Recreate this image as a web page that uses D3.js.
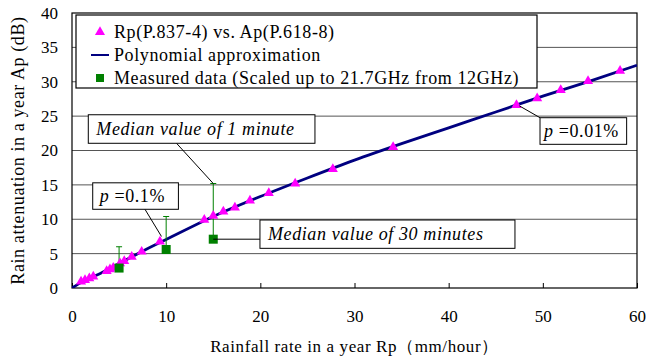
<!DOCTYPE html>
<html>
<head>
<meta charset="utf-8">
<script src="https://cdn.jsdelivr.net/npm/d3@7"></script>
<style>
  html, body { margin: 0; padding: 0; background: #fff; }
  svg { display: block; }
  svg text { font-family: "Liberation Serif", "Times New Roman", serif; fill: #000; }
</style>
</head>
<body>
<svg width="650" height="363"></svg>
<script>
// Rp(P.837-4) vs. Ap(P.618-8) points
const rpRate = [0.96, 1.38, 1.84, 2.26, 3.68, 4.03, 4.38, 5.1, 5.55, 6.34, 7.4, 9.34,
  14.05, 15.0, 16.07, 17.3, 18.9, 20.9, 23.7, 27.7, 34.1, 47.2, 49.4, 51.9, 54.8, 58.2];
const apAtten = [0.92, 1.16, 1.4, 1.65, 2.47, 2.72, 2.95, 3.6, 3.93, 4.55, 5.28, 6.74,
  9.9, 10.5, 11.1, 11.7, 12.7, 13.8, 15.2, 17.3, 20.5, 26.6, 27.6, 28.8, 30.1, 31.6];

// Polynomial approximation
const polyRate = [0, 1, 2, 3, 5, 7.5, 10, 15, 20, 25, 30, 35, 40, 45, 50, 55, 60];
const polyAtten = [0, 0.85, 1.5, 2.1, 3.55, 5.35, 7.05, 10.4, 13.3, 16.0, 18.6, 21.0, 23.3, 25.6, 27.9, 30.1, 32.4];

// Measured data (scaled up to 21.7GHz from 12GHz)
const measRate = [5, 10, 15];
const measAtten = [2.9, 5.6, 7.1];     // median of 30 minutes
const measUpper = [6.0, 10.4, 15.2];   // median of 1 minute

const xTicks = [0, 10, 20, 30, 40, 50, 60];
const yTicks = [0, 5, 10, 15, 20, 25, 30, 35, 40];

const svg = d3.select('svg');
const margin = { left: 72, right: 13, top: 13, bottom: 75 };
const W = 650, H = 363;
const FONT = '"Liberation Serif", "Times New Roman", serif';

const x = d3.scaleLinear().domain([0, 60]).range([margin.left, W - margin.right]);
const y = d3.scaleLinear().domain([0, 40]).range([H - margin.bottom, margin.top]);

// clip for the plot area
svg.append('clipPath').attr('id', 'plot')
  .append('rect')
  .attr('x', x(0)).attr('y', y(40))
  .attr('width', x(60) - x(0)).attr('height', y(0) - y(40));

// horizontal gridlines
svg.append('g')
  .selectAll('line')
  .data(yTicks.slice(1, -1))
  .join('line')
  .attr('x1', x(0)).attr('x2', x(60))
  .attr('y1', d => y(d)).attr('y2', d => y(d))
  .attr('stroke', '#555').attr('stroke-width', 1);

// x axis: inner ticks, labels below
const xAxis = svg.append('g')
  .attr('transform', `translate(0,${y(0)})`)
  .call(d3.axisBottom(x).tickValues(xTicks).tickSize(-5).tickPadding(22).tickSizeOuter(0));
xAxis.select('.domain').remove();
xAxis.selectAll('line').attr('stroke', '#000');
xAxis.selectAll('text').attr('font-size', 17).attr('font-family', FONT).attr('fill', '#000');

// y axis labels
const yAxis = svg.append('g')
  .attr('transform', `translate(${x(0)},0)`)
  .call(d3.axisLeft(y).tickValues(yTicks).tickSize(0).tickPadding(14));
yAxis.select('.domain').remove();
yAxis.selectAll('text').attr('font-size', 17).attr('font-family', FONT).attr('fill', '#000');

// plot frame
svg.append('rect')
  .attr('x', x(0)).attr('y', y(40))
  .attr('width', x(60) - x(0)).attr('height', y(0) - y(40))
  .attr('fill', 'none').attr('stroke', '#000').attr('stroke-width', 1.2);

const plot = svg.append('g').attr('clip-path', 'url(#plot)');

// polynomial curve
const polyData = polyRate.map((r, i) => ({ r, a: polyAtten[i] }));
plot.append('path')
  .datum(polyData)
  .attr('fill', 'none')
  .attr('stroke', '#000080')
  .attr('stroke-width', 2.8)
  .attr('d', d3.line().x(d => x(d.r)).y(d => y(d.a)).curve(d3.curveMonotoneX));

// error bars (measured: from 30 min median up to 1 min median)
const meas = measRate.map((r, i) => ({ r, a: measAtten[i], up: measUpper[i] }));
const err = svg.append('g').attr('stroke', '#008000').attr('stroke-width', 1);
err.selectAll('line.v').data(meas).join('line').attr('class', 'v')
  .attr('x1', d => x(d.r)).attr('x2', d => x(d.r))
  .attr('y1', d => y(d.a)).attr('y2', d => y(d.up));
err.selectAll('line.c').data(meas).join('line').attr('class', 'c')
  .attr('x1', d => x(d.r) - 3).attr('x2', d => x(d.r) + 3)
  .attr('y1', d => y(d.up)).attr('y2', d => y(d.up));

// triangles
const triangle = d3.symbol().type(d3.symbolTriangle).size(44);
const pts = rpRate.map((r, i) => ({ r, a: apAtten[i] }));
svg.append('g')
  .selectAll('path')
  .data(pts)
  .join('path')
  .attr('d', triangle)
  .attr('transform', d => `translate(${x(d.r)},${y(d.a)})`)
  .attr('fill', '#ff00ff');

// measured squares
svg.append('g')
  .selectAll('rect')
  .data(meas)
  .join('rect')
  .attr('x', d => x(d.r) - 4.5).attr('y', d => y(d.a) - 4.5)
  .attr('width', 9).attr('height', 9)
  .attr('fill', '#008000');

// annotations: box in data units, leader from/to in data units
const notes = [
  { x0: 1.73, y0: 25.2, x1: 25.8, y1: 21.05, pad: 8, parts: [['Median value of 1 minute', 'italic']],
    lead: [[11.1, 21.05], [15, 15.2]] },
  { x0: 2.2, y0: 15.3, x1: 11.3, y1: 11.45, pad: 7, parts: [['p', 'italic'], [' =0.1%', 'normal']],
    lead: [[7.75, 11.45], [9.5, 7.5]] },
  { x0: 19.96, y0: 9.89, x1: 47.04, y1: 5.77, pad: 8, parts: [['Median value of 30 minutes', 'italic']],
    lead: [[15, 7.1], [19.96, 7.1]] },
  { x0: 49.7, y0: 24.77, x1: 58.9, y1: 20.9, pad: 4, parts: [['p', 'italic'], [' =0.01%', 'normal']],
    lead: [[47.5, 26.5], [49.7, 24.77]] }
];

const ann = svg.append('g');
notes.forEach(n => {
  ann.append('line')
    .attr('x1', x(n.lead[0][0])).attr('y1', y(n.lead[0][1]))
    .attr('x2', x(n.lead[1][0])).attr('y2', y(n.lead[1][1]))
    .attr('stroke', '#000').attr('stroke-width', 1);
  ann.append('rect')
    .attr('x', x(n.x0)).attr('y', y(n.y0))
    .attr('width', x(n.x1) - x(n.x0)).attr('height', y(n.y1) - y(n.y0))
    .attr('fill', '#fff').attr('stroke', '#000').attr('stroke-width', 1);
  const t = ann.append('text')
    .attr('x', x(n.x0) + n.pad)
    .attr('y', (y(n.y0) + y(n.y1)) / 2)
    .attr('dy', '0.35em')
    .attr('font-size', 18)
    .attr('letter-spacing', 0.6);
  n.parts.forEach(p => t.append('tspan').attr('font-style', p[1]).text(p[0]));
});

// legend
const legendItems = [
  { label: 'Rp(P.837-4) vs. Ap(P.618-8)', kind: 'tri' },
  { label: 'Polynomial approximation', kind: 'line' },
  { label: 'Measured data (Scaled up to 21.7GHz from 12GHz)', kind: 'sq' }
];
const lg = svg.append('g');
lg.append('rect')
  .attr('x', 76).attr('y', 15).attr('width', 461).attr('height', 73)
  .attr('fill', '#fff').attr('stroke', '#000').attr('stroke-width', 1.2);
legendItems.forEach((d, i) => {
  const cy = 32 + i * 23;
  if (d.kind === 'tri') {
    lg.append('path').attr('d', triangle).attr('transform', `translate(100,${cy})`).attr('fill', '#ff00ff');
  } else if (d.kind === 'line') {
    lg.append('line').attr('x1', 91).attr('x2', 109).attr('y1', cy).attr('y2', cy)
      .attr('stroke', '#000080').attr('stroke-width', 2);
  } else {
    lg.append('rect').attr('x', 96).attr('y', cy - 4).attr('width', 8).attr('height', 8).attr('fill', '#008000');
  }
  lg.append('text')
    .attr('x', 114).attr('y', cy).attr('dy', '0.35em')
    .attr('font-size', 18)
    .attr('letter-spacing', 0.6)
    .text(d.label);
});

// axis titles
svg.append('text')
  .attr('x', (x(0) + x(60)) / 2).attr('y', 352)
  .attr('text-anchor', 'middle').attr('font-size', 17)
  .attr('letter-spacing', 0.6)
  .text('Rainfall rate in a year Rp（mm/hour）');

svg.append('text')
  .attr('transform', `translate(24,${(y(0) + y(40)) / 2}) rotate(-90)`)
  .attr('text-anchor', 'middle').attr('font-size', 18)
  .attr('letter-spacing', 0.6)
  .text('Rain attenuation in a year Ap (dB)');
</script>
</body>
</html>
